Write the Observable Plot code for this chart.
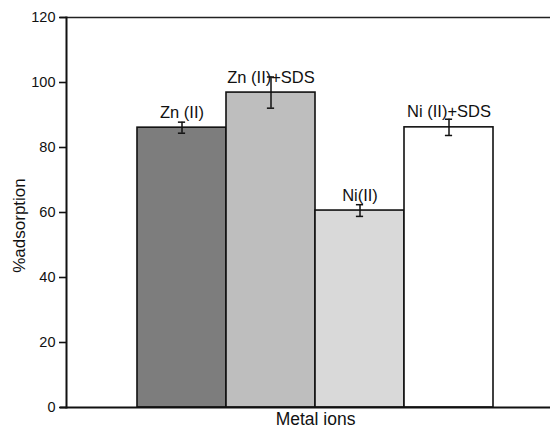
<!DOCTYPE html>
<html>
<head>
<meta charset="utf-8">
<script src="https://cdn.jsdelivr.net/npm/d3@7"></script>
<script src="https://cdn.jsdelivr.net/npm/@observablehq/plot@0.6"></script>
<style>
  html, body { margin: 0; padding: 0; background: #fff; }
  svg { font-family: "Liberation Sans", Arial, sans-serif; }
</style>
</head>
<body>
<div id="chart"></div>
<script>
const categories = ["Zn (II)", "Zn (II)+SDS", "Ni(II)", "Ni (II)+SDS"];
const values = [86.1, 96.9, 60.6, 86.2];
const errors = [1.7, 4.8, 1.8, 2.5];
const colors = ["#7d7d7d", "#bebebe", "#d9d9d9", "#ffffff"];
const yTicks = [0, 20, 40, 60, 80, 100, 120];
const xTitle = "Metal ions";
const yTitle = "%adsorption";

const data = categories.map((c, i) => ({
  cat: c, value: values[i], err: errors[i], color: colors[i]
}));

const chart = Plot.plot({
  width: 550,
  height: 432,
  marginLeft: 66,
  marginRight: 0,
  marginTop: 17,
  marginBottom: 25,
  style: { fontFamily: "Liberation Sans, Arial, sans-serif", background: "#fff" },
  x: { type: "band", domain: categories, range: [135, 494], padding: 0, axis: null },
  y: { domain: [0, 120], axis: null },
  marks: [
    Plot.barY(data, { x: "cat", y: "value", fill: "color", stroke: "#111", strokeWidth: 1.6 }),
    Plot.text(data, { x: "cat", y: "value", text: "cat", dy: -10, lineAnchor: "bottom", fontSize: 16.5, fill: "#111" }),
    Plot.ruleX(data, { x: "cat", y1: d => d.value - d.err, y2: d => d.value + d.err, stroke: "#111", strokeWidth: 1.5 }),
    Plot.tickY(data, { x: "cat", y: d => d.value - d.err, stroke: "#111", strokeWidth: 1.5, insetLeft: 40.9, insetRight: 40.9 }),
    Plot.tickY(data, { x: "cat", y: d => d.value + d.err, stroke: "#111", strokeWidth: 1.5, insetLeft: 40.9, insetRight: 40.9 }),
    Plot.ruleY([0], { stroke: "#111", strokeWidth: 2, insetLeft: -6 }),
    Plot.ruleY([120], { stroke: "#222", strokeWidth: 1.6, insetLeft: -6 }),
    Plot.frame({ anchor: "left", stroke: "#111", strokeWidth: 2 }),
    Plot.axisY({ ticks: yTicks, tickSize: 7, tickPadding: 4, fontSize: 14.5, label: null, stroke: "#111", strokeWidth: 1.6, fill: "#111" }),
    Plot.text([yTitle], { frameAnchor: "left", textAnchor: "middle", rotate: -90, dx: -47, dy: 13, fontSize: 17, fill: "#111", text: d => d }),
    Plot.text([xTitle], { frameAnchor: "bottom", dx: 7, dy: 17, fontSize: 17.5, fill: "#111", text: d => d })
  ]
});
document.getElementById("chart").appendChild(chart);
</script>
</body>
</html>
